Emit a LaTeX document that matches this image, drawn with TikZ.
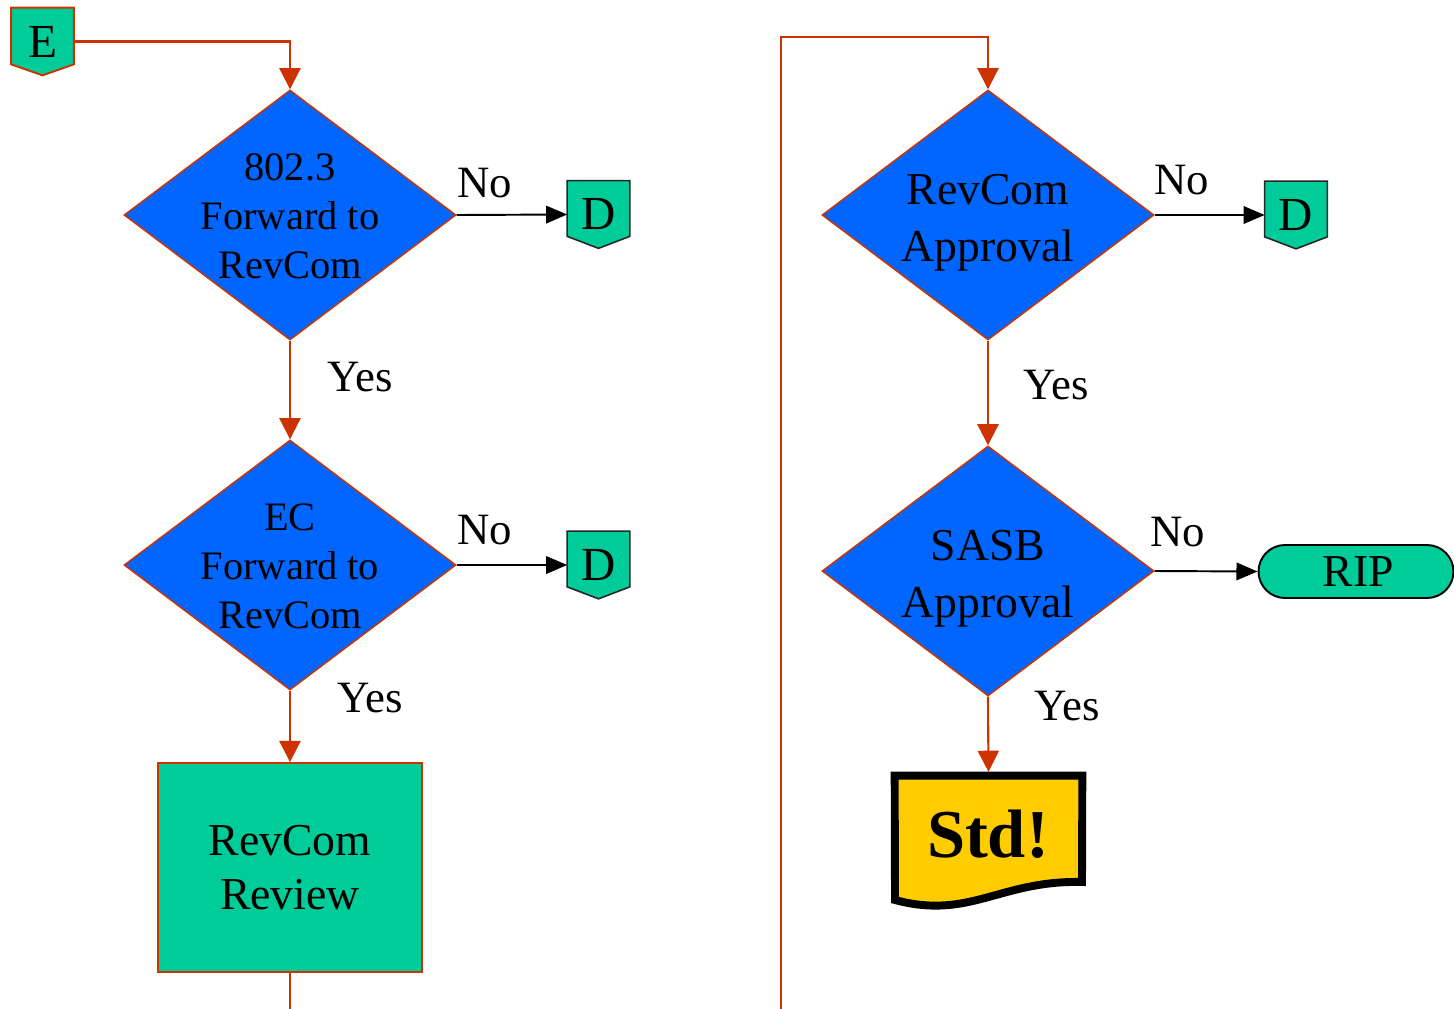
\documentclass[tikz,border=0pt]{standalone}
\usepackage{fontspec}
\setmainfont{Liberation Serif}
\usetikzlibrary{shapes.geometric,shapes.misc,arrows.meta}
\definecolor{dblue}{HTML}{0066FF}
\definecolor{dgreen}{HTML}{00CC99}
\definecolor{dorange}{HTML}{CC3300}
\definecolor{dyellow}{HTML}{FFCC00}
\begin{document}
\begin{tikzpicture}[x=0.02cm,y=-0.02cm,
  decision/.style={diamond, draw=dorange, line width=0.85pt, fill=dblue, inner sep=0pt,
    minimum width=6.64cm, minimum height=5cm},
  dtext/.style={align=center, inner sep=0pt, font=\fontsize{23}{27.8}\selectfont},
  dtextb/.style={align=center, inner sep=0pt, font=\fontsize{26}{32.3}\selectfont},
  lbl/.style={inner sep=0pt, font=\fontsize{25.5}{30}\selectfont},
  offpage/.style={inner sep=0pt, minimum width=1.24cm, minimum height=1.34cm,
    font=\fontsize{27}{30}\selectfont},
  flow/.style={draw=dorange, line width=1.2pt, -{Triangle[length=12pt,width=12pt]}},
  plainflow/.style={draw=dorange, line width=1.2pt},
  noflow/.style={draw=black, line width=1.1pt, -{Triangle[length=12pt,width=10pt]}}]
\useasboundingbox (0,0) rectangle (1454,1008);

% off-page connector E
\node[offpage] (E) at (42.5,41.5) {};
\filldraw[fill=dgreen, draw=dorange, line width=1.1pt] (E.north west) -- (E.north east) -- ([yshift=0.22cm]E.south east) -- (E.south) -- ([yshift=0.22cm]E.south west) -- cycle;
\node[offpage] (Et) at (E) {E};

% decisions
\node[decision] (d1) at (290,215) {};
\node[dtext] (t1) at (290,216.5) {802.3\\Forward to\\RevCom};
\node[decision] (d2) at (290,565) {};
\node[dtext] (t2) at (290,566.5) {EC\\Forward to\\RevCom};
\node[decision] (d3) at (988,215) {};
\node[dtextb] (t3) at (988,222.5) {RevCom\\Approval};
\node[decision] (d4) at (988,571) {};
\node[dtextb] (t4) at (988,579) {SASB\\Approval};

% review box
\node[draw=dorange, fill=dgreen, line width=1.1pt, minimum width=5.28cm, minimum height=4.18cm,
  align=center, font=\fontsize{26}{31}\selectfont] (rev) at (290,867.5) {RevCom\\Review};

% D connectors
\foreach \n/\x/\y in {D1/598.5/214.5, D2/598.5/565, D3/1296/215}{
  \node[offpage] (\n) at (\x,\y) {};
  \filldraw[fill=dgreen, draw=black!85, line width=0.9pt] (\n.north west) -- (\n.north east) -- ([yshift=0.24cm]\n.south east) -- (\n.south) -- ([yshift=0.24cm]\n.south west) -- cycle;
  \node[offpage] at (\n) {D};
}

% RIP terminator
\node[rounded rectangle, draw=black, line width=1.1pt, fill=dgreen, minimum width=3.9cm,
  minimum height=1.06cm, inner sep=0pt, font=\fontsize{26}{30}\selectfont] (rip) at (1356,571.5) {\hspace{0.1cm}RIP};

% Std! document
\node[inner sep=0pt, minimum width=3.74cm, minimum height=2.6cm] (std) at (988.5,841) {};
\filldraw[fill=dyellow, draw=black, line width=4.5pt, line join=miter]
  (std.north west) -- (std.north east) -- (1082,882)
  .. controls (1000,880) and (970,920) .. (895,900) -- cycle;
\node[inner sep=0pt, font=\bfseries\fontsize{39}{44}\selectfont] (stdt) at (988,834) {Std!};

% labels
\node[lbl] (n1) at (485,183) {No};
\node[lbl] (y1) at (360,377) {Yes};
\node[lbl] (n2) at (485,530) {No};
\node[lbl] (y2) at (370,698) {Yes};
\node[lbl] (n3) at (1182,180) {No};
\node[lbl] (y3) at (1056,385) {Yes};
\node[lbl] (n4) at (1178,532) {No};
\node[lbl] (y4) at (1067,706) {Yes};

% connectors
\draw[flow] (E.east) -| (d1.north);
\draw[flow] (d1.south) -- (d2.north);
\draw[flow] (d2.south) -- (rev.north);
\coordinate (bl) at (290,1012);
\draw[plainflow] (rev.south) -- (bl);
\coordinate (br) at (781,1012);
\coordinate (tc) at (781,37);
\draw[flow] (br) -- (tc) -| (d3.north);
\draw[flow] (d3.south) -- (d4.north);
\draw[flow, shorten >=2.2pt] (d4.south) -- (std.north);
\draw[noflow] (d1.east) -- (D1.west);
\draw[noflow] (d2.east) -- (D2.west);
\draw[noflow] (d3.east) -- (D3.west);
\draw[noflow] (d4.east) -- (rip.west);
\end{tikzpicture}
\end{document}
